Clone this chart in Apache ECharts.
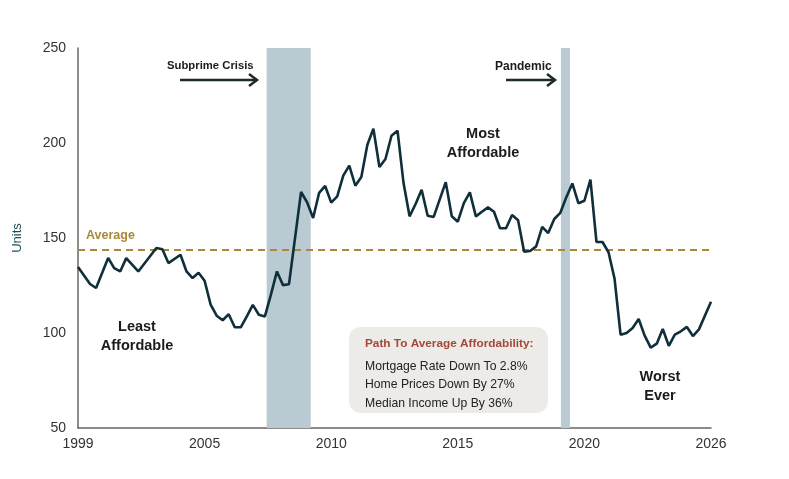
<!DOCTYPE html>
<html>
<head>
<meta charset="utf-8">
<script src="https://cdn.jsdelivr.net/npm/echarts@6/dist/echarts.min.js"></script>
<style>
  html, body { margin: 0; padding: 0; background: #fff; }
  #chart { width: 789px; height: 479px; }
</style>
</head>
<body>
<div id="chart"></div>
<script>
// quarter position (0 = start of 1999) and index value
var positions = [0,2,3,5,6,7,8,10,13,14,15,17,18,19,20,21,22,23,24,25,26,27,28,29,30,31,32,33,34,35,
  37,38,39,40,41,42,43,44,45,46,47,48,49,50,51,52,53,54,55,56,57,58,59,
  61,62,63,64,65,66,67,68,69,70,71,72,73,74,75,76,77,78,79,80,81,82,83,84,85,86,87,88,89,90,
  91,92,93,94,95,96,97,98,99,100,101,102,103,105];
var values = [134.7,125.8,123.7,139.5,134.1,132.4,139.4,132.4,144.7,144.1,136.8,141.2,132.4,128.9,131.7,127.5,
  114.9,109.1,106.7,109.9,103.0,103.0,108.7,114.8,109.6,108.7,120.2,132.4,125.2,125.7,
  174.2,168.8,160.5,173.8,177.4,168.6,171.9,182.8,188.1,177.5,182.1,199.1,207.5,187.4,191.6,203.8,206.5,178.9,
  161.4,167.9,175.4,161.7,161.1,
  179.4,161.4,158.6,168.4,174.0,161.4,163.8,166.1,163.8,155.1,155.1,162.1,159.3,142.8,143.2,145.6,155.9,152.6,
  160.0,163.2,171.5,178.7,168.3,169.6,180.7,147.9,147.9,142.5,128.6,99.1,
  100.0,102.6,107.4,98.6,92.3,94.4,102.1,93.2,99.1,100.9,103.2,98.4,101.9,116.5];
var yearLabels = ['1999','2005','2010','2015','2020','2026'];
var averageValue = 144;
var crisisBands = [[31.3, 38.6], [80.1, 81.6]];
var boxLines = ['Mortgage Rate Down To 2.8%', 'Home Prices Down By 27%', 'Median Income Up By 36%'];

var chart = echarts.init(document.getElementById('chart'));

var points = [];
for (var i = 0; i < positions.length; i++) {
  points.push([positions[i], values[i]]);
}

var labelFont = 'Liberation Sans';

var option = {
  backgroundColor: '#fff',
  animation: false,
  grid: { left: 78, right: 78, top: 48, bottom: 51 },
  xAxis: {
    type: 'value',
    min: 0,
    max: 105,
    interval: 21,
    axisLine: { show: true, onZero: false, lineStyle: { color: '#666', width: 1.5 } },
    axisTick: { show: false },
    splitLine: { show: false },
    axisLabel: {
      color: '#333',
      fontSize: 14,
      fontFamily: labelFont,
      margin: 9,
      formatter: function (v) { return yearLabels[Math.round(v / 21)]; }
    }
  },
  yAxis: {
    type: 'value',
    min: 50,
    max: 250,
    interval: 50,
    name: 'Units',
    nameLocation: 'middle',
    nameGap: 54,
    nameTextStyle: { color: '#1f4e5c', fontSize: 13, fontFamily: labelFont },
    axisLine: { show: true, lineStyle: { color: '#666', width: 1.5 } },
    axisTick: { show: false },
    splitLine: { show: false },
    axisLabel: { color: '#333', fontSize: 14, fontFamily: labelFont, margin: 12 }
  },
  series: [{
    type: 'line',
    data: points,
    symbol: 'none',
    lineStyle: { color: '#0f2f3b', width: 2.6 },
    z: 5,
    markArea: {
      silent: true,
      itemStyle: { color: '#b9cad2' },
      data: crisisBands.map(function (b) { return [{ xAxis: b[0] }, { xAxis: b[1] }]; })
    },
    markLine: {
      silent: true,
      symbol: 'none',
      lineStyle: { color: '#a8893b', type: [7, 5], width: 2 },
      label: {
        position: 'insideStartTop',
        formatter: 'Average',
        color: '#a8893b',
        fontWeight: 'bold',
        fontSize: 12.5,
        fontFamily: labelFont,
        distance: [8, 7]
      },
      data: [{ yAxis: averageValue }]
    }
  }],
  graphic: [
    { type: 'text', left: 167, top: 60, style: { text: 'Subprime Crisis', fill: '#1b1b1b', font: 'bold 11.3px ' + labelFont } },
    { type: 'line', shape: { x1: 180, y1: 80, x2: 257, y2: 80 }, style: { stroke: '#1c2b25', lineWidth: 2.5 } },
    { type: 'polyline', shape: { points: [[249, 74], [257, 80], [249, 86]] }, style: { stroke: '#1c2b25', lineWidth: 2.5, fill: null } },
    { type: 'text', left: 495, top: 61, style: { text: 'Pandemic', fill: '#1b1b1b', font: 'bold 12px ' + labelFont } },
    { type: 'line', shape: { x1: 506, y1: 80, x2: 555, y2: 80 }, style: { stroke: '#1c2b25', lineWidth: 2.5 } },
    { type: 'polyline', shape: { points: [[547, 74], [555, 80], [547, 86]] }, style: { stroke: '#1c2b25', lineWidth: 2.5, fill: null } },
    { type: 'text', x: 137, y: 317, style: { text: 'Least\nAffordable', fill: '#1b1b1b', font: 'bold 14.5px ' + labelFont, align: 'center', lineHeight: 19 } },
    { type: 'text', x: 483, y: 124, style: { text: 'Most\nAffordable', fill: '#1b1b1b', font: 'bold 14.5px ' + labelFont, align: 'center', lineHeight: 19 } },
    { type: 'text', x: 660, y: 367, style: { text: 'Worst\nEver', fill: '#1b1b1b', font: 'bold 14.5px ' + labelFont, align: 'center', lineHeight: 19 } },
    { type: 'rect', shape: { x: 349, y: 327, width: 199, height: 86, r: 12 }, style: { fill: '#ecebe7' }, z: 10 },
    { type: 'text', left: 365, top: 338, z: 11, style: { text: 'Path To Average Affordability:', fill: '#a5473a', font: 'bold 11.8px ' + labelFont } },
    { type: 'text', left: 365, top: 357, z: 11, style: { text: boxLines.join('\n'), fill: '#222', font: '12.2px ' + labelFont, lineHeight: 18.5 } }
  ]
};

chart.setOption(option);
</script>
</body>
</html>
